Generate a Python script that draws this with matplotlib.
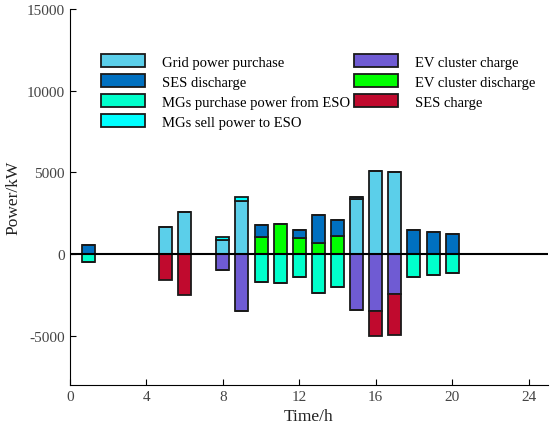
import numpy as np
import matplotlib
matplotlib.use('Agg')
import matplotlib.pyplot as plt

plt.rcParams['font.family'] = ['Liberation Serif', 'DejaVu Serif']
plt.rcParams['axes.unicode_minus'] = False

hours = np.arange(1, 25)

# positive side (kW)
grid_buy = [0, 0, 0, 0, 1630, 2560, 0, 870, 3250, 0, 0, 0,
            0, 0, 3350, 5080, 5000, 0, 0, 0, 0, 0, 0, 0]
ev_dis = [0, 0, 0, 0, 0, 0, 0, 0, 0, 1055, 1830, 1000,
          650, 1100, 0, 0, 0, 0, 0, 0, 0, 0, 0, 0]
ses_dis = [530, 0, 0, 0, 0, 0, 0, 0, 0, 735, 0, 466,
           1770, 1015, 170, 0, 0, 1464, 1340, 1220, 0, 0, 0, 0]
mg_sell = [0, 0, 0, 0, 0, 0, 0, 170, 270, 0, 0, 0,
           0, 0, 0, 0, 0, 0, 0, 0, 0, 0, 0, 0]

# negative side (kW)
mg_buy = [-470, 0, 0, 0, 0, 0, 0, 0, 0, -1727, -1790, -1383,
          -2380, -2030, 0, 0, 0, -1383, -1260, -1180, 0, 0, 0, 0]
ev_chg = [0, 0, 0, 0, 0, 0, 0, -995, -3455, 0, 0, 0,
          0, 0, -3435, -3455, -2440, 0, 0, 0, 0, 0, 0, 0]
ses_chg = [0, 0, 0, 0, -1570, -2480, 0, 0, 0, 0, 0, 0,
           0, 0, 0, -1565, -2500, 0, 0, 0, 0, 0, 0, 0]

c_grid = '#5BCFEA'
c_sesd = '#0070C0'
c_mgb = '#00FFCC'
c_mgs = '#00FFFF'
c_evc = '#6F5BD3'
c_evd = '#00FF00'
c_sesc = '#C00A2E'

fig = plt.figure(figsize=(5.5, 4.35), dpi=100)
ax = fig.add_axes([0.127, 0.113, 0.869, 0.864])

w = 0.68
kw = dict(width=w, edgecolor='#1a1a1a', linewidth=1.3)

pos = np.zeros(24)
h_grid = ax.bar(hours, grid_buy, bottom=pos, color=c_grid, **kw)
pos += grid_buy
h_evd = ax.bar(hours, ev_dis, bottom=pos, color=c_evd, **kw)
pos += ev_dis
h_sesd = ax.bar(hours, ses_dis, bottom=pos, color=c_sesd, **kw)
pos += ses_dis
h_mgs = ax.bar(hours, mg_sell, bottom=pos, color=c_mgs, **kw)

neg = np.zeros(24)
h_mgb = ax.bar(hours, mg_buy, bottom=neg, color=c_mgb, **kw)
neg += mg_buy
h_evc = ax.bar(hours, ev_chg, bottom=neg, color=c_evc, **kw)
neg += ev_chg
h_sesc = ax.bar(hours, ses_chg, bottom=neg, color=c_sesc, **kw)

ax.axhline(0, color='black', linewidth=1.5, zorder=5)

ax.set_xlim(0, 25)
ax.set_ylim(-8000, 15000)
ax.set_xticks([0, 4, 8, 12, 16, 20, 24])
ax.set_yticks([-5000, 0, 5000, 10000, 15000])
ax.tick_params(direction='in', length=4, labelsize=11, labelcolor='#444444')
ax.spines['top'].set_visible(False)
ax.spines['right'].set_visible(False)
ax.set_xlabel('Time/h', fontsize=12.5, color='#222222')
ax.set_ylabel('Power/kW', fontsize=12.5, color='#222222')

handles = [h_grid, h_sesd, h_mgb, h_mgs, h_evc, h_evd, h_sesc]
labels = ['Grid power purchase', 'SES discharge',
          'MGs purchase power from ESO', 'MGs sell power to ESO',
          'EV cluster charge', 'EV cluster discharge', 'SES charge']
ax.legend(handles, labels, ncol=2, frameon=False, fontsize=10.5,
          loc='upper left', bbox_to_anchor=(0.038, 0.915),
          handlelength=3.0, handleheight=1.0, handletextpad=1.15,
          columnspacing=0.3, labelspacing=0.38)

fig.savefig('out.png', dpi=100)
